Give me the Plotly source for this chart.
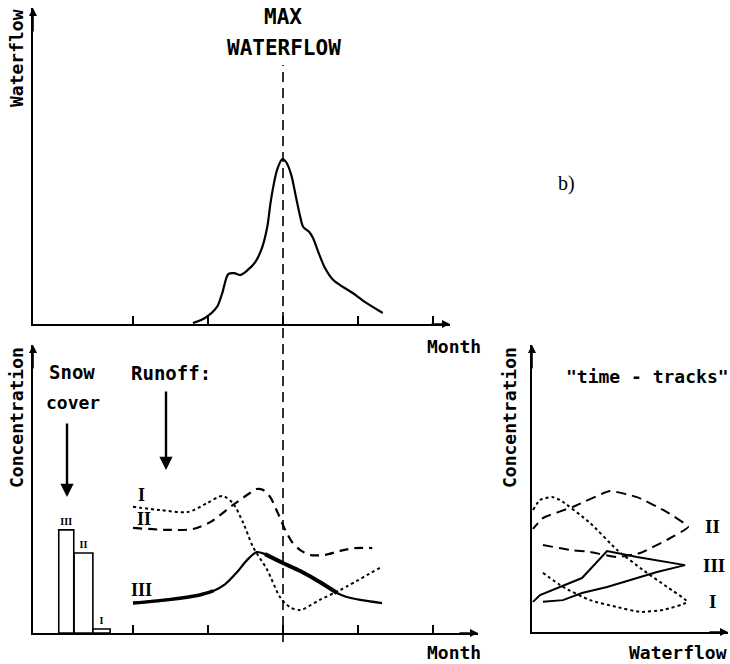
import plotly.graph_objects as go

# ---------------- data ----------------
# a) top: hydrograph (x in months, ticks at 1..5; flow in relative units 0-100)
flow_month = [1.80, 1.96, 2.12, 2.19, 2.27, 2.35, 2.43, 2.53, 2.63, 2.72, 2.79, 2.83, 2.87, 2.92,
              2.99, 3.04, 3.11, 3.17, 3.23, 3.27, 3.35, 3.40, 3.47, 3.56, 3.67, 3.80, 3.93, 4.09, 4.33]
flow_value = [0.3, 1.9, 5.4, 9.8, 15.8, 16.1, 15.5, 17.1, 19.6, 24.1, 30.7, 37.7, 43.4, 48.7,
              52.2, 51.3, 47.2, 40.5, 33.9, 30.7, 29.1, 27.2, 22.8, 17.7, 13.9, 11.7, 9.8, 7.0, 3.5]
max_flow_month = 3.0

# bottom-left: snow cover layers
snow_layers = ["III", "II", "I"]
snow_pos = [0.11, 0.34, 0.58]
snow_conc = [35.8, 27.8, 1.4]

# bottom-left: runoff concentrations
run_I_month = [1.00, 1.36, 1.73, 1.99, 2.19, 2.33, 2.47, 2.60, 2.79, 2.96, 3.09, 3.23, 3.49, 3.76, 4.29]
run_I_conc = [43.8, 42.7, 42.0, 45.1, 47.6, 45.1, 38.2, 29.9, 21.9, 12.5, 9.0, 8.0, 11.5, 14.9, 22.6]
run_II_month = [1.00, 1.45, 1.80, 2.03, 2.33, 2.56, 2.65, 2.73, 2.83, 2.93, 3.03, 3.12, 3.23, 3.36,
                3.56, 3.76, 3.96, 4.19]
run_II_conc = [36.5, 35.8, 36.1, 38.5, 44.4, 48.6, 50.0, 49.7, 47.2, 41.7, 35.8, 31.6, 28.8, 27.1,
               27.1, 28.5, 29.5, 29.5]
run_III_month = [1.00, 1.45, 1.89, 2.07, 2.23, 2.39, 2.52, 2.65, 2.76, 3.00, 3.23, 3.49, 3.72, 3.85, 4.03, 4.32]
run_III_conc = [10.4, 11.5, 13.2, 14.6, 17.0, 21.2, 25.3, 28.1, 27.4, 24.3, 21.5, 17.7, 13.9, 12.5, 11.5, 10.4]

# b) right: time-tracks (waterflow 0-100 vs concentration 0-100)
tt_I_flow = [5.6, 15.8, 29.6, 43.4, 55.1, 66.8, 79.1, 68.9, 56.6, 43.4, 29.6, 14.3, 10.2, 4.1, 0.5]
tt_I_conc = [20.6, 15.7, 11.1, 8.7, 7.0, 7.7, 10.5, 15.7, 21.6, 28.6, 38.0, 46.0, 47.0, 46.0, 42.5]
tt_II_flow = [5.6, 19.4, 29.6, 43.4, 55.1, 68.9, 79.6, 68.9, 53.6, 39.8, 20.9, 5.6, 0.5]
tt_II_conc = [30.3, 28.6, 27.9, 26.1, 27.5, 32.1, 36.6, 41.8, 47.0, 49.1, 43.6, 39.7, 35.9]
tt_III_flow = [0.5, 4.1, 25.5, 38.3, 53.6, 78.1, 63.8, 55.1, 38.3, 25.5, 15.8, 5.6]
tt_III_conc = [10.5, 12.9, 18.8, 28.2, 26.1, 23.3, 20.9, 19.2, 15.7, 13.6, 11.1, 10.5]

month_ticks = [1, 2, 3, 4, 5]

# ---------------- figure ----------------
W, H = 730, 664
MONO = "DejaVu Sans Mono"
SERIF = "Liberation Serif"
BLACK = "black"

def px_x(p):
    return p / W

def px_y(p):
    return 1 - p / H

fig = go.Figure()

# top hydrograph
fig.add_trace(go.Scatter(x=flow_month, y=flow_value, mode="lines", xaxis="x", yaxis="y",
                         line=dict(color=BLACK, width=2.2, shape="spline", smoothing=0.8)))

# snow bars
fig.add_trace(go.Bar(x=snow_pos, y=snow_conc, width=[0.2, 0.25, 0.23], xaxis="x2", yaxis="y2",
                     marker=dict(color="white", line=dict(color=BLACK, width=1.6)),
                     text=["<b>%s</b>" % s for s in snow_layers], textposition="outside",
                     cliponaxis=False, textfont=dict(family=SERIF, size=10, color=BLACK)))

# runoff lines
fig.add_trace(go.Scatter(x=run_I_month, y=run_I_conc, mode="lines", xaxis="x2", yaxis="y2",
                         line=dict(color=BLACK, width=2, dash="dot", shape="spline", smoothing=0.8)))
fig.add_trace(go.Scatter(x=run_II_month, y=run_II_conc, mode="lines", xaxis="x2", yaxis="y2",
                         line=dict(color=BLACK, width=2.2, dash="9px,6px", shape="spline", smoothing=0.8)))
fig.add_trace(go.Scatter(x=run_III_month, y=run_III_conc, mode="lines", xaxis="x2", yaxis="y2",
                         line=dict(color=BLACK, width=2.2, shape="spline", smoothing=0.8)))
# heavier parts of curve III
fig.add_trace(go.Scatter(x=run_III_month[:4], y=run_III_conc[:4], mode="lines", xaxis="x2", yaxis="y2",
                         line=dict(color=BLACK, width=3.5, shape="spline", smoothing=0.8)))
fig.add_trace(go.Scatter(x=run_III_month[8:13], y=run_III_conc[8:13], mode="lines", xaxis="x2", yaxis="y2",
                         line=dict(color=BLACK, width=4, shape="spline", smoothing=0.8)))

# time tracks
fig.add_trace(go.Scatter(x=tt_I_flow, y=tt_I_conc, mode="lines", xaxis="x3", yaxis="y3",
                         line=dict(color=BLACK, width=2, dash="dot", shape="spline", smoothing=0.5)))
fig.add_trace(go.Scatter(x=tt_II_flow, y=tt_II_conc, mode="lines", xaxis="x3", yaxis="y3",
                         line=dict(color=BLACK, width=2, dash="10px,6px", shape="spline", smoothing=0.4)))
fig.add_trace(go.Scatter(x=tt_III_flow, y=tt_III_conc, mode="lines", xaxis="x3", yaxis="y3",
                         line=dict(color=BLACK, width=2)))

axis_common = dict(showgrid=False, zeroline=False, showline=True, linecolor=BLACK, linewidth=2,
                   showticklabels=False, fixedrange=True)

x0_month = (33 - 58) / 75.0
fig.update_layout(
    width=W, height=H, margin=dict(l=0, r=0, t=0, b=0),
    plot_bgcolor="white", paper_bgcolor="white", showlegend=False,
    xaxis=dict(domain=[px_x(33), px_x(450)], range=[x0_month, (450 - 58) / 75.0], anchor="y",
               ticks="inside", ticklen=8, tickwidth=1.5, tickcolor=BLACK, tickvals=month_ticks,
               **axis_common),
    yaxis=dict(domain=[px_y(324), px_y(8)], range=[0, 100], anchor="x", ticks="", **axis_common),
    xaxis2=dict(domain=[px_x(33), px_x(478)], range=[x0_month, (478 - 58) / 75.0], anchor="y2",
                ticks="inside", ticklen=8, tickwidth=1.5, tickcolor=BLACK, tickvals=month_ticks,
                **axis_common),
    yaxis2=dict(domain=[px_y(633), px_y(345)], range=[0, 100], anchor="x2", ticks="", **axis_common),
    xaxis3=dict(domain=[px_x(532), px_x(728)], range=[0, 100], anchor="y3", ticks="", **axis_common),
    yaxis3=dict(domain=[px_y(632), px_y(345)], range=[0, 100], anchor="x3", ticks="", **axis_common),
)

# max waterflow dashed line across both panels
fig.add_shape(type="line", xref="x", yref="paper", x0=max_flow_month, x1=max_flow_month,
              y0=px_y(642), y1=px_y(65), line=dict(color=BLACK, width=1.6, dash="10px,6px"))

ann = []
def arrow(xref, yref, x, y, ax, ay, axref="pixel", ayref="pixel", width=1.6, size=1.0):
    ann.append(dict(xref=xref, yref=yref, x=x, y=y, ax=ax, ay=ay, axref=axref, ayref=ayref,
                    text="", showarrow=True, arrowhead=2, arrowsize=size, arrowwidth=width,
                    arrowcolor=BLACK))

# axis arrows
arrow("x", "y", x0_month, 100, 0, 25)
arrow("x", "y", (450 - 58) / 75.0, 0, -20, 0)
arrow("x2", "y2", x0_month, 100, 0, 25)
arrow("x2", "y2", (478 - 58) / 75.0, 0, -20, 0)
arrow("x3", "y3", 0, 100, 0, 25)
arrow("x3", "y3", 100, 0, -20, 0)
# snow cover and runoff arrows
arrow("x2", "y2", 0.12, 47.2, 0.12, 73.3, axref="x2", ayref="y2", width=2.4, size=1.1)
arrow("x2", "y2", 1.44, 56.6, 1.44, 84.4, axref="x2", ayref="y2", width=2.4, size=1.1)

def text(t, x, y, size=19, family=MONO, angle=0, xref="paper", yref="paper", bold=True, **kw):
    d = dict(text=("<b>%s</b>" % t) if bold else t, x=x, y=y, xref=xref, yref=yref,
             showarrow=False, textangle=angle,
             font=dict(family=family, size=size, color=BLACK), xanchor="center", yanchor="middle")
    d.update(kw)
    ann.append(d)

text("MAX", px_x(283), px_y(17), size=21)
text("WATERFLOW", px_x(284), px_y(48), size=21)
text("Waterflow", px_x(17), px_y(58), angle=-90, size=18)
text("Month", px_x(454), px_y(347), size=18)
text("b)", px_x(566), px_y(183), size=20, family=SERIF, bold=False)
text("Concentration", px_x(17), px_y(418), angle=-90, size=18)
text("Snow", px_x(72), px_y(372), size=19)
text("cover", px_x(73), px_y(402), size=18)
text("Runoff:", px_x(171), px_y(373), size=19)
text("Month", px_x(454), px_y(652), size=18)
text("Concentration", px_x(510), px_y(418), angle=-90, size=18)
text("\"time - tracks\"", px_x(647), px_y(377), size=18)
text("Waterflow", px_x(678), px_y(652), size=18)

# roman labels of runoff curves
text("I", run_I_month[0] + 0.11, run_I_conc[0] + 4, size=18, family=SERIF, xref="x2", yref="y2")
text("II", run_II_month[0] + 0.15, run_II_conc[0] + 3, size=18, family=SERIF, xref="x2", yref="y2")
text("III", run_III_month[0] + 0.11, run_III_conc[0] + 4.5, size=18, family=SERIF, xref="x2", yref="y2")
# roman labels of time tracks
text("II", 92, tt_II_conc[6], size=19, family=SERIF, xref="x3", yref="y3")
text("III", 93, tt_III_conc[5], size=19, family=SERIF, xref="x3", yref="y3")
text("I", 92, tt_I_conc[6], size=19, family=SERIF, xref="x3", yref="y3")

fig.update_layout(annotations=ann)
fig.write_html("out.html")
